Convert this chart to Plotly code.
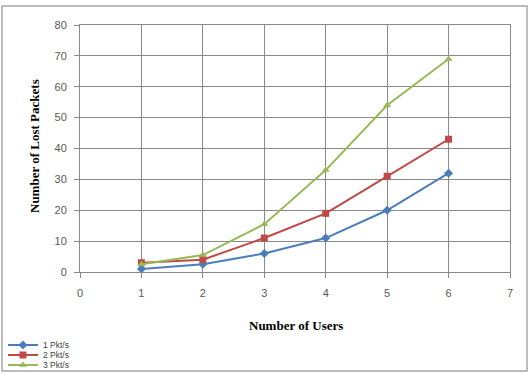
import plotly.graph_objects as go

# Number of users on the x axis
users = [1, 2, 3, 4, 5, 6]

# Lost packets per sending rate
lost_1pkt = [1, 2.5, 6, 11, 20, 32]
lost_2pkt = [3, 4, 11, 19, 31, 43]
lost_3pkt = [2.5, 5.5, 15.5, 33, 54, 69]

series_names = ["1 Pkt/s", "2 Pkt/s", "3 Pkt/s"]
x_ticks = [0, 1, 2, 3, 4, 5, 6, 7]
y_ticks = [0, 10, 20, 30, 40, 50, 60, 70, 80]

W, H = 529, 374
L, R, T, B = 80, 19, 25, 102
pw, ph = W - L - R, H - T - B


def px_x(p):
    return (p - L) / pw


def px_y(p):
    return (H - B - p) / ph


styles = [
    dict(color="#4A7EBB", symbol="diamond", size=7),
    dict(color="#BE4B48", symbol="square", size=7),
    dict(color="#98B954", symbol="triangle-up", size=7),
]
values = [lost_1pkt, lost_2pkt, lost_3pkt]
legend_ids = ["legend", "legend2", "legend3"]

fig = go.Figure()
for name, ys, st, lg in zip(series_names, values, styles, legend_ids):
    fig.add_trace(go.Scatter(
        x=users, y=ys, name=name, mode="lines+markers",
        line=dict(color=st["color"], width=2),
        marker=dict(color=st["color"], symbol=st["symbol"], size=st["size"]),
        legend=lg,
    ))

tick_font = dict(family="Liberation Sans, Arial, sans-serif", size=11, color="#595959")
grid_col = "#8a8a8a"
title_font = dict(family="Liberation Serif, Times New Roman, serif", size=13, color="#000")

# Legends are placed in container coordinates so they do not push the margins
legend_common = dict(
    font=dict(family="Liberation Sans, Arial, sans-serif", size=8.5, color="#404040"),
    bgcolor="rgba(0,0,0,0)", borderwidth=0,
    xref="container", yref="container",
    xanchor="left", yanchor="middle", itemwidth=30,
)
layout_legends = {}
for lg, ypix in zip(legend_ids, [345, 355, 365]):
    layout_legends[lg] = dict(legend_common, x=3 / W, y=(H - ypix) / H)

fig.update_layout(
    width=W, height=H,
    margin=dict(l=L, r=R, t=T, b=B, pad=0, autoexpand=False),
    paper_bgcolor="white", plot_bgcolor="white",
    showlegend=True,
    **layout_legends,
    xaxis=dict(
        range=[0, 7], tickvals=x_ticks, ticktext=[str(v) for v in x_ticks],
        showgrid=True, gridcolor=grid_col, gridwidth=1,
        showline=True, linecolor=grid_col, linewidth=1, mirror=True,
        ticks="outside", ticklen=5, tickcolor=grid_col,
        tickfont=tick_font, ticklabelstandoff=6, zeroline=False,
        automargin=False,
    ),
    yaxis=dict(
        range=[0, 80], tickvals=y_ticks, ticktext=[str(v) for v in y_ticks],
        showgrid=True, gridcolor=grid_col, gridwidth=1,
        showline=True, linecolor=grid_col, linewidth=1, mirror=True,
        ticks="outside", ticklen=5, tickcolor=grid_col,
        tickfont=tick_font, ticklabelstandoff=5, zeroline=False,
        automargin=False,
    ),
    annotations=[
        dict(text="<b>Number of Users</b>", xref="paper", yref="paper",
             x=px_x(296), y=px_y(325), showarrow=False,
             xanchor="center", yanchor="middle", font=title_font),
        dict(text="<b>Number of Lost Packets</b>", xref="paper", yref="paper",
             x=px_x(34), y=px_y(146), showarrow=False, textangle=-90,
             xanchor="center", yanchor="middle", font=title_font),
    ],
    shapes=[
        dict(type="rect", xref="paper", yref="paper",
             x0=px_x(2), x1=px_x(527), y0=px_y(371), y1=px_y(6),
             line=dict(color="#a6a6a6", width=1.5), fillcolor="rgba(0,0,0,0)",
             layer="below"),
    ],
)

fig.write_html("out.html")
